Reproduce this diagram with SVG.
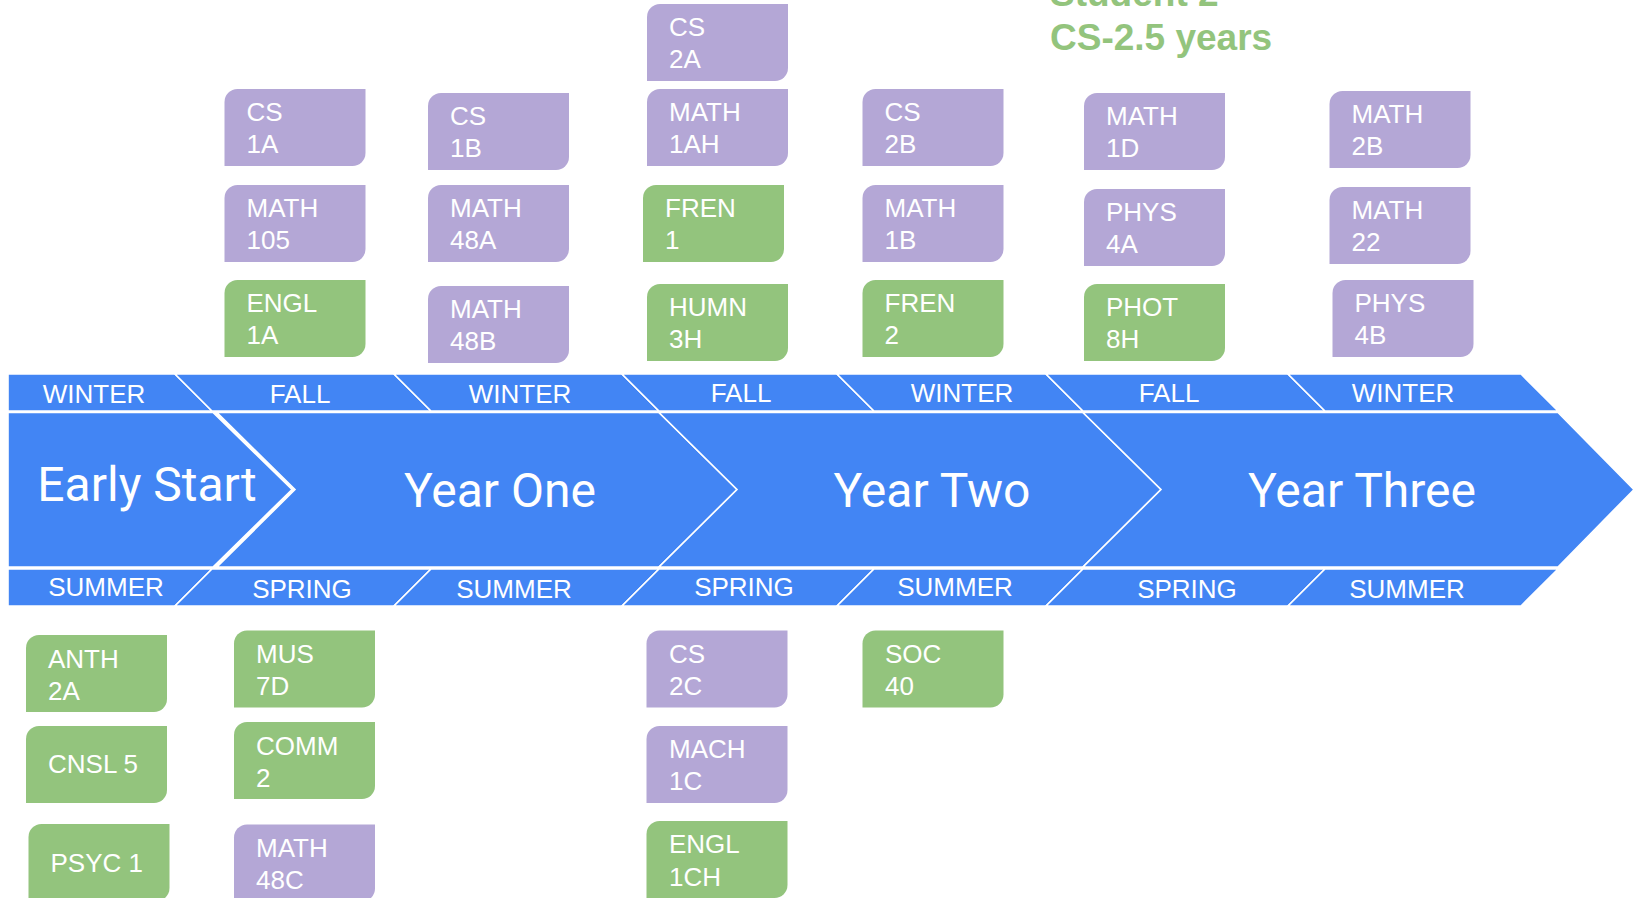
<svg xmlns="http://www.w3.org/2000/svg" xmlns:xlink="http://www.w3.org/1999/xlink" width="1633" height="898" viewBox="0 0 1633 898">
<style>
.band{fill:#4285F4;stroke:#FFFFFF;stroke-width:1.6;stroke-linejoin:miter}
.season{font-family:"Liberation Sans",Arial,sans-serif;font-size:26px;fill:#FFFFFF;text-anchor:middle}
.year{font-family:Roboto,"Liberation Sans",sans-serif;font-size:48px;fill:#FFFFFF;text-anchor:middle}
.p{fill:#B4A7D6}
.g{fill:#93C47D}
.t{font-family:"Liberation Sans",Arial,sans-serif;font-size:26px;fill:#FFFFFF}
.title{font-family:"Liberation Sans",Arial,sans-serif;font-size:37px;font-weight:bold;fill:#93C47D}
</style>
<defs>
<path id="card" d="M13,0 H141 V64 A13,13 0 0 1 128,77 H0 V13 A13,13 0 0 1 13,0 Z"/>
</defs>
<rect width="1633" height="898" fill="#FFFFFF"/>

<g id="title">
<text class="title" x="1050" y="6">Student 2</text>
<text class="title" x="1050" y="50">CS-2.5 years</text>
</g>

<g id="banner">
<g id="top-band">
<polygon class="band" points="8,374 175,374 212,411 8,411"/>
<polygon class="band" points="175,374 394,374 431,411 212,411"/>
<polygon class="band" points="394,374 622,374 659,411 431,411"/>
<polygon class="band" points="622,374 837,374 874,411 659,411"/>
<polygon class="band" points="837,374 1046,374 1083,411 874,411"/>
<polygon class="band" points="1046,374 1288,374 1325,411 1083,411"/>
<polygon class="band" points="1288,374 1521,374 1558,411 1325,411"/>
<text class="season" x="94" y="403">WINTER</text>
<text class="season" x="300" y="403">FALL</text>
<text class="season" x="520" y="403">WINTER</text>
<text class="season" x="741" y="402">FALL</text>
<text class="season" x="962" y="402">WINTER</text>
<text class="season" x="1169" y="402">FALL</text>
<text class="season" x="1403" y="402">WINTER</text>
</g>
<g id="years">
<polygon class="band" points="8,412.5 213,412.5 292,489.5 213,567 8,567"/>
<polygon class="band" points="217,412.5 659,412.5 737,489.5 659,567 217,567 295,489.5"/>
<polygon class="band" points="659,412.5 1083,412.5 1161,489.5 1083,567 659,567 737,489.5"/>
<polygon class="band" points="1083,412.5 1558,412.5 1634,489.5 1558,567 1083,567 1161,489.5"/>
<text class="year" x="147" y="501">Early Start</text>
<text class="year" x="500" y="507">Year One</text>
<text class="year" x="932" y="507">Year Two</text>
<text class="year" x="1362" y="507">Year Three</text>
</g>
<g id="bottom-band">
<polygon class="band" points="8,569 212,569 175,606 8,606"/>
<polygon class="band" points="212,569 431,569 394,606 175,606"/>
<polygon class="band" points="431,569 659,569 622,606 394,606"/>
<polygon class="band" points="659,569 874,569 837,606 622,606"/>
<polygon class="band" points="874,569 1083,569 1046,606 837,606"/>
<polygon class="band" points="1083,569 1325,569 1288,606 1046,606"/>
<polygon class="band" points="1325,569 1558,569 1521,606 1288,606"/>
<text class="season" x="106" y="596">SUMMER</text>
<text class="season" x="302" y="598">SPRING</text>
<text class="season" x="514" y="598">SUMMER</text>
<text class="season" x="744" y="596">SPRING</text>
<text class="season" x="955" y="596">SUMMER</text>
<text class="season" x="1187" y="598">SPRING</text>
<text class="season" x="1407" y="598">SUMMER</text>
</g>
</g>

<g id="cs-1a"><use xlink:href="#card" class="p" x="224.5" y="89"/><text class="t" x="246.5" y="121">CS</text><text class="t" x="246.5" y="153">1A</text></g>
<g id="math-105"><use xlink:href="#card" class="p" x="224.5" y="185"/><text class="t" x="246.5" y="217">MATH</text><text class="t" x="246.5" y="249">105</text></g>
<g id="engl-1a"><use xlink:href="#card" class="g" x="224.5" y="280"/><text class="t" x="246.5" y="312">ENGL</text><text class="t" x="246.5" y="344">1A</text></g>

<g id="cs-1b"><use xlink:href="#card" class="p" x="428" y="93"/><text class="t" x="450" y="125">CS</text><text class="t" x="450" y="157">1B</text></g>
<g id="math-48a"><use xlink:href="#card" class="p" x="428" y="185"/><text class="t" x="450" y="217">MATH</text><text class="t" x="450" y="249">48A</text></g>
<g id="math-48b"><use xlink:href="#card" class="p" x="428" y="286"/><text class="t" x="450" y="318">MATH</text><text class="t" x="450" y="350">48B</text></g>

<g id="cs-2a"><use xlink:href="#card" class="p" x="647" y="4"/><text class="t" x="669" y="36">CS</text><text class="t" x="669" y="68">2A</text></g>
<g id="math-1ah"><use xlink:href="#card" class="p" x="647" y="89"/><text class="t" x="669" y="121">MATH</text><text class="t" x="669" y="153">1AH</text></g>
<g id="fren-1"><use xlink:href="#card" class="g" x="643" y="185"/><text class="t" x="665" y="217">FREN</text><text class="t" x="665" y="249">1</text></g>
<g id="humn-3h"><use xlink:href="#card" class="g" x="647" y="284"/><text class="t" x="669" y="316">HUMN</text><text class="t" x="669" y="348">3H</text></g>

<g id="cs-2b"><use xlink:href="#card" class="p" x="862.5" y="89"/><text class="t" x="884.5" y="121">CS</text><text class="t" x="884.5" y="153">2B</text></g>
<g id="math-1b"><use xlink:href="#card" class="p" x="862.5" y="185"/><text class="t" x="884.5" y="217">MATH</text><text class="t" x="884.5" y="249">1B</text></g>
<g id="fren-2"><use xlink:href="#card" class="g" x="862.5" y="280"/><text class="t" x="884.5" y="312">FREN</text><text class="t" x="884.5" y="344">2</text></g>

<g id="math-1d"><use xlink:href="#card" class="p" x="1084" y="93"/><text class="t" x="1106" y="125">MATH</text><text class="t" x="1106" y="157">1D</text></g>
<g id="phys-4a"><use xlink:href="#card" class="p" x="1084" y="189"/><text class="t" x="1106" y="221">PHYS</text><text class="t" x="1106" y="253">4A</text></g>
<g id="phot-8h"><use xlink:href="#card" class="g" x="1084" y="284"/><text class="t" x="1106" y="316">PHOT</text><text class="t" x="1106" y="348">8H</text></g>

<g id="math-2b"><use xlink:href="#card" class="p" x="1329.5" y="91"/><text class="t" x="1351.5" y="123">MATH</text><text class="t" x="1351.5" y="155">2B</text></g>
<g id="math-22"><use xlink:href="#card" class="p" x="1329.5" y="187"/><text class="t" x="1351.5" y="219">MATH</text><text class="t" x="1351.5" y="251">22</text></g>
<g id="phys-4b"><use xlink:href="#card" class="p" x="1332.5" y="280"/><text class="t" x="1354.5" y="312">PHYS</text><text class="t" x="1354.5" y="344">4B</text></g>

<g id="anth-2a"><use xlink:href="#card" class="g" x="26" y="635"/><text class="t" x="48" y="668">ANTH</text><text class="t" x="48" y="700">2A</text></g>
<g id="cnsl-5"><use xlink:href="#card" class="g" x="26" y="726"/><text class="t" x="48" y="773">CNSL 5</text></g>
<g id="psyc-1"><use xlink:href="#card" class="g" x="28.5" y="824"/><text class="t" x="50.5" y="872">PSYC 1</text></g>

<g id="mus-7d"><use xlink:href="#card" class="g" x="234" y="630.5"/><text class="t" x="256" y="663">MUS</text><text class="t" x="256" y="695">7D</text></g>
<g id="comm-2"><use xlink:href="#card" class="g" x="234" y="722"/><text class="t" x="256" y="755">COMM</text><text class="t" x="256" y="787">2</text></g>
<g id="math-48c"><use xlink:href="#card" class="p" x="234" y="824.5"/><text class="t" x="256" y="857">MATH</text><text class="t" x="256" y="889">48C</text></g>

<g id="cs-2c"><use xlink:href="#card" class="p" x="646.5" y="630.5"/><text class="t" x="669" y="663">CS</text><text class="t" x="669" y="695">2C</text></g>
<g id="mach-1c"><use xlink:href="#card" class="p" x="646.5" y="726"/><text class="t" x="669" y="758">MACH</text><text class="t" x="669" y="790">1C</text></g>
<g id="engl-1ch"><use xlink:href="#card" class="g" x="646.5" y="821"/><text class="t" x="669" y="853">ENGL</text><text class="t" x="669" y="886">1CH</text></g>

<g id="soc-40"><use xlink:href="#card" class="g" x="862.5" y="630.5"/><text class="t" x="885" y="663">SOC</text><text class="t" x="885" y="695">40</text></g>
</svg>
